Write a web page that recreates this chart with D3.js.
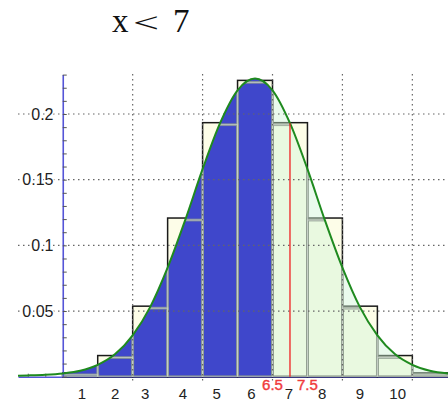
<!DOCTYPE html>
<html>
<head>
<meta charset="utf-8">
<script src="https://cdn.jsdelivr.net/npm/d3@7"></script>
<style>
  body { margin: 0; background: #fff; }
  svg { display: block; }
</style>
</head>
<body>
<svg></svg>
<script>
// binomial probabilities, one bar centred on each k
const barK = [1, 2, 3, 4, 5, 6, 7, 8, 9, 10, 11];
const barP = [0.0029, 0.0161, 0.0537, 0.1208, 0.1934, 0.2256, 0.1934, 0.1208, 0.0537, 0.0161, 0.0029];

// normal approximation
const curveX = [-0.78, -0.5, 0, 0.5, 1, 1.5, 2, 2.5, 3, 3.5, 4, 4.5, 5, 5.5, 6,
                6.5, 7, 7.5, 8, 8.5, 9, 9.5, 10, 10.5, 11, 11.52];
const curveY = [0.0008, 0.001, 0.0015, 0.0025, 0.0045, 0.009, 0.0172, 0.0315, 0.053, 0.083, 0.119, 0.158, 0.193, 0.218, 0.227,
                0.218, 0.193, 0.158, 0.119, 0.083, 0.053, 0.0315, 0.0172, 0.009, 0.0045, 0.0025];

const xTickLabels = ['1', '2', '3', '4', '5', '6', '7', '8', '9', '10'];
const xTickPos = [1.05, 2, 2.86, 3.94, 4.9, 5.9, 6.97, 7.92, 9, 10.08];
const yTickLabels = ['0.05', '0.1', '0.15', '0.2'];
const yTickVals = [0.05, 0.1, 0.15, 0.2];
const gridX = [2.5, 4.5, 6.5, 8.5, 10.5];
const cutLabels = ['6.5', '7.5'];
const cutLabelPos = [6.5, 7.5];
const cutX = 7;
const splitX = 6.5;

const width = 448, height = 400;

const svg = d3.select('svg')
    .attr('width', width)
    .attr('height', height);

const x = d3.scaleLinear().domain([-0.78, 11.52]).range([18, 448]);
const y = d3.scaleLinear().domain([0, 0.23]).range([376.7, 74.6]);

const pts = curveX.map((d, i) => [d, curveY[i]]);

// title  "x < 7"
const titleFont = '"Liberation Serif", "Times New Roman", serif';
svg.append('text')
    .attr('x', 112).attr('y', 32)
    .style('font-family', titleFont).style('font-size', '33px').style('fill', '#111')
    .text('x');
svg.append('text')
    .attr('transform', 'translate(133,32) scale(1.4,0.85)')
    .style('font-family', titleFont).style('font-size', '33px').style('fill', '#111')
    .text('<');
svg.append('text')
    .attr('x', 173).attr('y', 32)
    .style('font-family', titleFont).style('font-size', '33px').style('fill', '#111')
    .text('7');

// x axis line + small ticks (under the bars)
const xAxis = d3.axisBottom(x)
    .tickValues(d3.range(-0.5, 11.6, 0.5))
    .tickSize(-3)
    .tickSizeOuter(0)
    .tickFormat('');

svg.append('g')
    .attr('class', 'x axis')
    .attr('transform', 'translate(0,' + y(0) + ')')
    .call(xAxis)
    .call(g => g.select('.domain').attr('stroke', '#5555d8').attr('stroke-width', 1.5))
    .call(g => g.selectAll('.tick line').attr('stroke', '#555'));

// binomial bars
const bw = x(1) - x(0);
svg.append('g')
    .attr('class', 'bars')
    .selectAll('rect')
    .data(barK)
    .enter().append('rect')
      .attr('x', d => x(d - 0.5))
      .attr('y', (d, i) => y(barP[i]))
      .attr('width', bw)
      .attr('height', (d, i) => y(0) - y(barP[i]))
      .style('fill', '#fdfde8')
      .style('stroke', '#1a1a1a')
      .style('stroke-width', 1.5);

// area under the curve, split at 6.5
const area = d3.area()
    .x(d => x(d[0]))
    .y0(y(0))
    .y1(d => y(d[1]))
    .curve(d3.curveMonotoneX);

svg.append('clipPath')
    .attr('id', 'under-curve')
  .append('path')
    .datum(pts)
    .attr('d', area);

svg.append('path')
    .datum(pts.filter(d => d[0] >= 0.5 && d[0] <= splitX))
    .attr('d', area)
    .style('fill', '#3f47cb');

svg.append('path')
    .datum(pts.filter(d => d[0] >= splitX))
    .attr('d', area)
    .style('fill', 'rgb(205,242,212)')
    .style('fill-opacity', 0.42);

// grey copy of the bars, only visible under the curve
const greyBars = svg.append('g')
    .attr('class', 'grey-bars')
    .attr('clip-path', 'url(#under-curve)');
[['#8f9c8f', 2.8], ['#c9d2c9', 1]].forEach(s => {
  greyBars.append('g')
    .selectAll('rect')
    .data(barK)
    .enter().append('rect')
      .attr('x', d => x(d - 0.5))
      .attr('y', (d, i) => Math.min(y(barP[i]) + 2, y(0)))
      .attr('width', bw)
      .attr('height', (d, i) => Math.max(y(0) - y(barP[i]) - 2, 0))
      .style('fill', 'none')
      .style('stroke', s[0])
      .style('stroke-width', s[1])
      .style('stroke-opacity', 0.8);
});

// dotted grid
svg.append('g')
    .attr('class', 'grid')
    .selectAll('line.h')
    .data(yTickVals)
    .enter().append('line')
      .attr('x1', 18)
      .attr('x2', 448)
      .attr('y1', d => y(d))
      .attr('y2', d => y(d))
      .style('stroke', '#666')
      .style('stroke-width', 1.2)
      .style('stroke-dasharray', '1.5,3.5');

svg.append('g')
    .attr('class', 'grid')
    .selectAll('line.v')
    .data(gridX)
    .enter().append('line')
      .attr('x1', d => x(d))
      .attr('x2', d => x(d))
      .attr('y1', 74)
      .attr('y2', 384)
      .style('stroke', '#666')
      .style('stroke-width', 1.2)
      .style('stroke-dasharray', '1.5,3.5');

// y axis
const yAxis = d3.axisLeft(y)
    .tickValues(d3.range(0, 0.2301, 0.01))
    .tickSize(-4)
    .tickSizeOuter(0)
    .tickFormat('');

svg.append('g')
    .attr('class', 'y axis')
    .attr('transform', 'translate(' + x(0.5) + ',0)')
    .call(yAxis)
    .call(g => g.select('.domain').attr('stroke', '#5555d8').attr('stroke-width', 1.6))
    .call(g => g.selectAll('.tick line').attr('stroke', '#555'));

svg.append('g')
    .selectAll('text')
    .data(yTickVals)
    .enter().append('text')
      .attr('x', 53.5)
      .attr('y', d => y(d))
      .attr('dy', '0.36em')
      .style('text-anchor', 'end')
      .style('font-family', '"Liberation Sans", Arial, sans-serif')
      .style('font-size', '16px')
      .style('fill', '#222')
      .style('stroke', '#fff')
      .style('stroke-width', 3)
      .style('paint-order', 'stroke')
      .text((d, i) => yTickLabels[i]);

// normal curve
svg.append('path')
    .datum(pts)
    .attr('d', d3.line().x(d => x(d[0])).y(d => y(d[1])).curve(d3.curveMonotoneX))
    .style('fill', 'none')
    .style('stroke', '#1f8a1f')
    .style('stroke-width', 2);

// red marker at x = 7
const cutTop = curveY[curveX.indexOf(cutX)];
svg.append('line')
    .attr('x1', x(cutX))
    .attr('x2', x(cutX))
    .attr('y1', y(cutTop))
    .attr('y2', y(0))
    .style('stroke', '#f02020')
    .style('stroke-width', 1.3);

svg.append('g')
    .selectAll('text')
    .data(cutLabelPos)
    .enter().append('text')
      .attr('x', d => x(d))
      .attr('y', 390)
      .style('text-anchor', 'middle')
      .style('font-family', '"Liberation Sans", Arial, sans-serif')
      .style('font-size', '15px')
      .style('fill', '#f03c3c')
      .style('stroke', '#f03c3c')
      .style('stroke-width', 0.4)
      .text((d, i) => cutLabels[i]);

// x tick labels
svg.append('g')
    .selectAll('text')
    .data(xTickPos)
    .enter().append('text')
      .attr('x', d => x(d))
      .attr('y', 398.5)
      .style('text-anchor', 'middle')
      .style('font-family', '"Liberation Sans", Arial, sans-serif')
      .style('font-size', '15px')
      .style('fill', '#222')
      .text((d, i) => xTickLabels[i]);
</script>
</body>
</html>
